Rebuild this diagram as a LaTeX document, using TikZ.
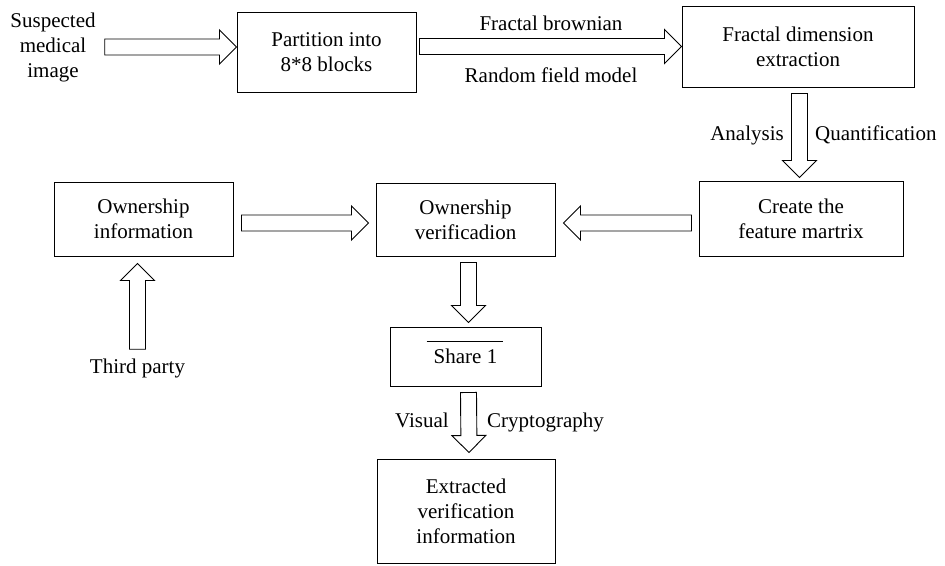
\documentclass[tikz,border=0pt]{standalone}
\usepackage{fontspec}
\setmainfont{Liberation Serif}
\usetikzlibrary{calc}
\tikzset{
  box/.style={draw, line width=1pt, align=center, font=\fontsize{21}{25}\selectfont},
  lbl/.style={align=center, inner sep=0pt, font=\fontsize{21}{25}\selectfont},
  fat/.style={draw, line width=0.9pt, line join=miter}}
\newcommand{\fatarrow}[2]{%
  \draw[fat] let \p1=#1, \p2=#2, \n1={atan2(\y2-\y1,\x2-\x1)}, \n2={veclen(\x2-\x1,\y2-\y1)} in
  [shift={(\p1)}, rotate=\n1] (0,-8) -- (\n2-17,-8) -- (\n2-17,-17) -- (\n2,0) -- (\n2-17,17) -- (\n2-17,8) -- (0,8) -- cycle;}

\begin{document}
\begin{tikzpicture}[x=1pt, y=1pt]
	\useasboundingbox (0,0) rectangle (945,-565);
	\coordinate (row2) at (0,-223);
	\node[lbl] (img) at (53,-47) {Suspected\\medical\\image};
	\node[box, minimum width=179, minimum height=80] (part) at (326.5,-52) {Partition into\\8*8 blocks};
	\node[box, minimum width=232, minimum height=81] (frac) at (798,-46.5) {Fractal dimension\\extraction};
	\node[box, minimum width=204, minimum height=75] (create) at (801,-218.5) {Create the\\feature martrix};
	\node[box, minimum width=179, minimum height=73] (verif) at (465.5,-219.5) {Ownership\\verificadion};
	\node[box, minimum width=179, minimum height=74] (info) at (143.5,-219) {Ownership\\information};
	\node[lbl] (third) at (137.5,-368) {Third party};
	\node[box, minimum width=151, minimum height=59] (share) at (465.5,-356.5) {\smash{\rlap{\hspace{-7pt}\raisebox{22pt}{\rule{76pt}{0.9pt}}}}Share 1};
	\node[box, minimum width=178, minimum height=104] (extract) at (466,-511) {Extracted\\verification\\information};
\fatarrow{($(img.east)+(9,0)$)}{(part.west |- img.east)}
\fatarrow{($(part.east |- frac.west)+(3,0)$)}{(frac.west)}
\fatarrow{($(frac.south)+(1.5,-6)$)}{($(frac.south |- create.north)+(1.5,3)$)}
\fatarrow{($(create.west |- row2)+(-7,0)$)}{($(verif.east |- row2)+(8,0)$)}
\fatarrow{($(info.east |- row2)+(8,0)$)}{($(verif.west |- row2)+(-7,0)$)}
\fatarrow{($(third.north)+(0,9)$)}{($(third.north |- info.south)+(0,-7)$)}
\fatarrow{($(verif.south)+(3,-6)$)}{($(share.north)+(3,4)$)}
\fatarrow{($(share.south)+(3,-6)$)}{($(extract.north)+(3,6)$)}
\node[lbl] (fbm) at (551,-23) {Fractal brownian};
\node[lbl] (rfm) at (551,-75) {Random field model};
\node[lbl, anchor=base east] (ana) at (784,-140) {Analysis};
\node[lbl, anchor=base west] (quant) at (815,-140) {Quantification};
\node[lbl, anchor=base east] (vis) at (449,-427) {Visual};
\node[lbl, anchor=base west] (crypt) at (487,-427) {Cryptography};
\end{tikzpicture}
\end{document}
